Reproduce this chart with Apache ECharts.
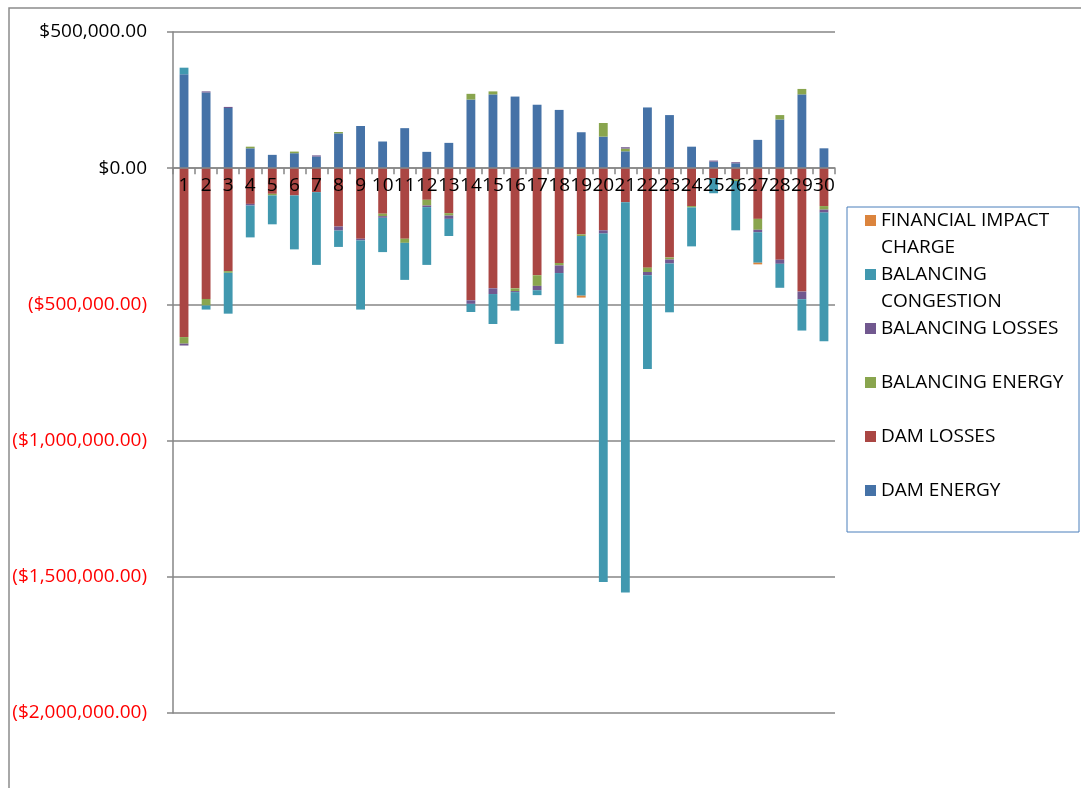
<!DOCTYPE html>
<html>
<head>
<meta charset="utf-8">
<script src="https://cdn.jsdelivr.net/npm/echarts@6/dist/echarts.min.js"></script>
<style>
  html, body { margin: 0; padding: 0; background: #fff; }
  #chart { width: 1081px; height: 788px; }
</style>
</head>
<body>
<div id="chart"></div>
<script>
// days of the month
var days = ['1', '2', '3', '4', '5', '6', '7', '8', '9', '10', '11', '12', '13', '14', '15',
  '16', '17', '18', '19', '20', '21', '22', '23', '24', '25', '26', '27', '28', '29', '30'];

// values in $
var damEnergy = [345000, 278000, 221000, 73000, 49000, 55000, 43000, 128000, 155000, 98000,
  147000, 60000, 93000, 252000, 271000, 263000, 233000, 214000, 132000, 116000,
  62000, 223000, 195000, 79000, 24000, 18000, 104000, 179000, 271000, 73000];
var damLosses = [-620000, -480000, -378000, -131000, -94000, -100000, -88000, -214000, -259000, -167000,
  -259000, -116000, -165000, -485000, -441000, -441000, -393000, -348000, -243000, -228000,
  -125000, -365000, -328000, -139000, -37000, -41000, -186000, -336000, -453000, -139000];
var balancingEnergy = [-24000, -24000, -6000, 6000, -6000, 6000, 0, 5000, 0, -9000,
  -15000, -21000, -9000, 21000, 11000, -10000, -39000, -9000, -6000, 50000,
  10000, -16000, -7000, -5000, 0, -6000, -40000, 16000, 20000, -13000];
var balancingLosses = [-7000, 4000, 4000, -6000, 0, 0, 4000, -15000, -6000, -6000,
  0, -6000, -12000, -13000, -21000, -4000, -16000, -28000, 0, -12000,
  5000, -12000, -15000, 0, 4000, 4000, -9000, -15000, -28000, -11000];
var balancingCongestion = [24000, -15000, -150000, -117000, -106000, -198000, -267000, -60000, -254000, -126000,
  -136000, -212000, -63000, -30000, -110000, -68000, -18000, -260000, -219000, -1279000,
  -1433000, -344000, -179000, -143000, -55000, -181000, -112000, -88000, -115000, -472000];
var financialImpact = [0, 0, 0, 0, 0, 0, 0, 0, 0, 0,
  0, 0, 0, 0, 0, 0, 0, 0, -7000, 0,
  0, 0, 0, 0, 0, 0, -6000, 0, 0, 0];

var yMin = -2000000;
var yMax = 500000;
var yStep = 500000;

var seriesNames = ['DAM ENERGY', 'DAM LOSSES', 'BALANCING ENERGY', 'BALANCING LOSSES',
  'BALANCING CONGESTION', 'FINANCIAL IMPACT CHARGE'];
var seriesData = [damEnergy, damLosses, balancingEnergy, balancingLosses, balancingCongestion, financialImpact];
var colors = ['#4572A7', '#AA4643', '#89A54E', '#71588F', '#4198AF', '#DB843D'];

// legend text wrapped like the original box
var legendText = {
  'FINANCIAL IMPACT CHARGE': 'FINANCIAL IMPACT\nCHARGE',
  'BALANCING CONGESTION': 'BALANCING\nCONGESTION',
  'BALANCING LOSSES': 'BALANCING LOSSES\n ',
  'BALANCING ENERGY': 'BALANCING ENERGY\n ',
  'DAM LOSSES': 'DAM LOSSES\n ',
  'DAM ENERGY': 'DAM ENERGY\n '
};

var FONT = '"Open Sans", sans-serif';

function money(v) {
  var s = Math.abs(v).toFixed(2).replace(/\B(?=(\d{3})+(?!\d))/g, ',');
  return v < 0 ? '($' + s + ')' : '$' + s;
}

var chart = echarts.init(document.getElementById('chart'), null, { renderer: 'canvas' });

var series = [];
for (var i = 0; i < seriesNames.length; i++) {
  series.push({
    name: seriesNames[i],
    type: 'bar',
    stack: 'total',
    barWidth: '40%',
    itemStyle: { color: colors[i] },
    data: seriesData[i]
  });
}

var option = {
  backgroundColor: '#fff',
  animation: false,
  color: colors,
  textStyle: { fontFamily: FONT },
  graphic: [{
    type: 'rect',
    z: -1,
    silent: true,
    shape: { x: 9, y: 8, width: 1100, height: 800 },
    style: { fill: 'none', stroke: '#8c8c8c', lineWidth: 1.5 }
  }],
  grid: {
    left: 173,
    right: 246,
    top: 32,
    bottom: 75,
    outerBoundsMode: 'none'
  },
  legend: {
    orient: 'vertical',
    left: 847,
    top: 207,
    itemGap: 0,
    itemWidth: 11,
    itemHeight: 38,
    // square sits on the first text line
    icon: 'path://M0,0L11,0L11,11L0,11Z M0,38L0.01,38L0.01,37.99Z',
    padding: [0, 0, 1, 18],
    borderColor: '#4a7ebb',
    borderWidth: 1,
    selectedMode: false,
    data: seriesNames.slice().reverse(),
    formatter: function (name) { return legendText[name]; },
    textStyle: { fontFamily: FONT, fontSize: 19, lineHeight: 27, color: '#000', width: 198 }
  },
  xAxis: {
    type: 'category',
    data: days,
    z: 10,
    axisLine: { onZero: false, lineStyle: { color: '#868686', width: 1.5 } },
    axisTick: { show: true, length: 6, lineStyle: { color: '#868686', width: 1.5 } },
    axisLabel: { interval: 0, margin: 8, fontSize: 19, color: '#000', fontFamily: FONT },
    splitLine: { show: false }
  },
  yAxis: {
    type: 'value',
    min: yMin,
    max: yMax,
    interval: yStep,
    axisLine: { show: true, lineStyle: { color: '#868686', width: 1.5 } },
    axisTick: { show: true, length: 6, lineStyle: { color: '#868686', width: 1.5 } },
    axisLabel: {
      margin: 26,
      fontSize: 19,
      fontFamily: FONT,
      formatter: money,
      color: function (v) { return v < 0 ? '#ff0000' : '#000'; }
    },
    splitLine: { lineStyle: { color: '#868686', width: 1.5 } }
  },
  series: series
};

chart.setOption(option);

// move the category axis (line, ticks and labels) up to the zero line
var zeroY = chart.convertToPixel({ yAxisIndex: 0 }, 0);
var bottomY = chart.convertToPixel({ yAxisIndex: 0 }, yMin);
chart.setOption({ xAxis: { offset: -(bottomY - zeroY) } });
</script>
</body>
</html>
